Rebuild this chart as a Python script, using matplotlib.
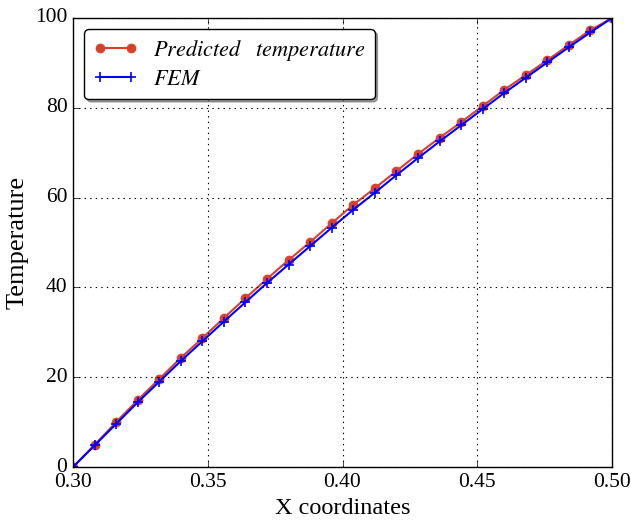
import numpy as np
import matplotlib
matplotlib.use("Agg")
import matplotlib.pyplot as plt

plt.style.use("classic")
plt.rcParams["font.family"] = "Liberation Serif"
plt.rcParams["mathtext.fontset"] = "stix"

# x positions of the samples
x = [0.300, 0.308, 0.316, 0.324, 0.332, 0.340, 0.348, 0.356, 0.364, 0.372,
     0.380, 0.388, 0.396, 0.404, 0.412, 0.420, 0.428, 0.436, 0.444, 0.452,
     0.460, 0.468, 0.476, 0.484, 0.492, 0.500]
predicted = [0.0, 4.9, 10.0, 14.9, 19.6, 24.3, 28.7, 33.2, 37.6, 41.9,
             46.1, 50.1, 54.3, 58.4, 62.1, 65.9, 69.7, 73.3, 76.8, 80.4,
             84.0, 87.3, 90.6, 94.0, 97.3, 100.0]
fem = [0.0, 4.8, 9.6, 14.4, 19.0, 23.6, 28.0, 32.4, 36.7, 41.0,
       45.1, 49.2, 53.3, 57.3, 61.1, 65.0, 68.8, 72.5, 76.1, 79.7,
       83.3, 86.7, 90.1, 93.5, 96.8, 100.0]

fig = plt.figure(figsize=(6.31, 5.22), dpi=100, facecolor="white")
ax = fig.add_axes([73/631, 55/522, 539/631, 449/522])

ax.plot(x, predicted, color="#d8402a", marker="o", markersize=6.5,
        markeredgecolor="#d8402a", linewidth=1.5,
        label=r"$Predicted\ \ \ temperature$")
ax.plot(x, fem, color="blue", marker="+", markersize=7, mew=1.2,
        linewidth=1.5, label=r"$FEM$")

ax.set_xlim(0.30, 0.50)
ax.set_ylim(0, 100)
ax.set_xticks([0.30, 0.35, 0.40, 0.45, 0.50])
ax.set_xticklabels(["0.30", "0.35", "0.40", "0.45", "0.50"])
ax.set_yticks([0, 20, 40, 60, 80, 100])
ax.tick_params(labelsize=15.5, direction="in", top=True, right=True)
ax.grid(True, linestyle=":", color="black", linewidth=0.8)

ax.set_xlabel("X coordinates", fontsize=17.5)
ax.set_ylabel("Temperature", fontsize=19)

leg = ax.legend(loc="upper left", fontsize=16, fancybox=True, shadow=True,
                numpoints=2, handlelength=2.0, handletextpad=0.7,
                labelspacing=0.3, borderaxespad=0.5)

fig.savefig("out.png", dpi=100, facecolor="white")
